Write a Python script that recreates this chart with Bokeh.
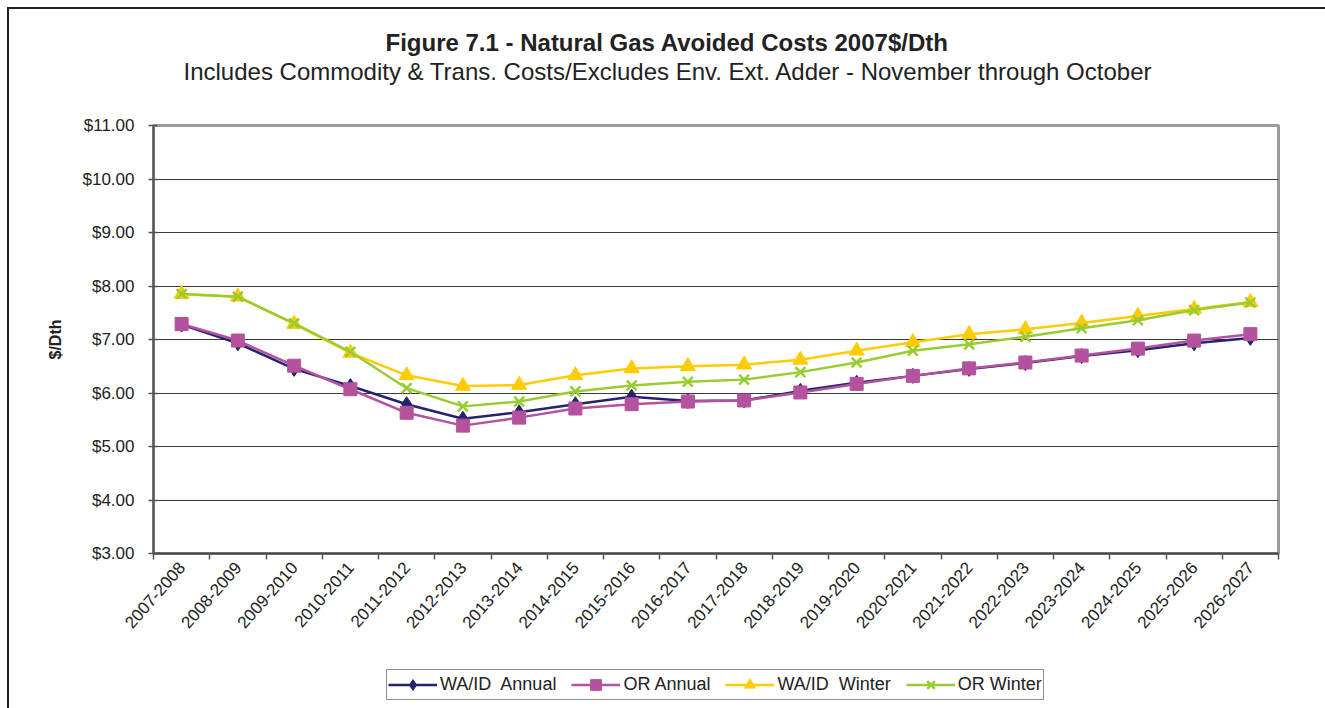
import math
from bokeh.plotting import figure
from bokeh.layouts import column
from bokeh.models import (Title, Legend, LegendItem, FixedTicker, SingleIntervalTicker,
                          NumeralTickFormatter, Range1d)
from bokeh.embed import file_html
from bokeh.resources import INLINE

categories = ["2007-2008", "2008-2009", "2009-2010", "2010-2011", "2011-2012",
              "2012-2013", "2013-2014", "2014-2015", "2015-2016", "2016-2017",
              "2017-2018", "2018-2019", "2019-2020", "2020-2021", "2021-2022",
              "2022-2023", "2023-2024", "2024-2025", "2025-2026", "2026-2027"]

wa_id_annual = [7.28, 6.93, 6.45, 6.13, 5.79, 5.52, 5.64, 5.79, 5.93, 5.85,
                5.86, 6.04, 6.19, 6.32, 6.45, 6.56, 6.69, 6.80, 6.93, 7.03]
or_annual = [7.29, 6.98, 6.51, 6.07, 5.63, 5.39, 5.54, 5.71, 5.79, 5.84,
             5.86, 6.01, 6.17, 6.32, 6.46, 6.57, 6.70, 6.83, 6.98, 7.10]
wa_id_winter = [7.85, 7.80, 7.29, 6.75, 6.33, 6.13, 6.15, 6.33, 6.46, 6.50,
                6.53, 6.62, 6.79, 6.95, 7.10, 7.19, 7.31, 7.44, 7.57, 7.70]
or_winter = [7.85, 7.80, 7.30, 6.77, 6.09, 5.75, 5.84, 6.03, 6.14, 6.21,
             6.25, 6.39, 6.57, 6.79, 6.91, 7.05, 7.21, 7.36, 7.55, 7.69]

series_names = ["WA/ID  Annual", "OR Annual", "WA/ID  Winter", "OR Winter"]

y_ticks_min, y_ticks_max = 3, 11

FONT = "Liberation Sans"
TXT = "#222222"

p = figure(width=1316, height=655, output_backend="svg", toolbar_location=None,
           x_range=Range1d(-0.5, len(categories) - 0.5),
           y_range=Range1d(y_ticks_min, y_ticks_max),
           min_border_left=144, min_border_right=47, min_border_top=116,
           min_border_bottom=111)

p.background_fill_color = "white"
p.border_fill_color = "white"
p.outline_line_color = "#9a9a9a"
p.outline_line_width = 3

# titles: spacer (closest to plot), subtitle, main title
spacer = Title(text=" ", text_font=FONT, text_font_size="24px", standoff=12)
sub = Title(text="Includes Commodity & Trans.  Costs/Excludes Env.  Ext.  Adder - November through October",
            text_font=FONT, text_font_size="24px", text_font_style="normal",
            text_color=TXT, align="left", offset=30, standoff=0)
main = Title(text="Figure 7.1 - Natural Gas Avoided Costs 2007$/Dth",
             text_font=FONT, text_font_size="24px", text_font_style="bold",
             text_color=TXT, align="left", offset=232, standoff=0)
p.add_layout(spacer, "above")
p.add_layout(sub, "above")
p.add_layout(main, "above")

p.xgrid.grid_line_color = None
p.ygrid.grid_line_color = "#3a3a3a"
p.ygrid.grid_line_width = 1.2
p.ygrid.ticker = SingleIntervalTicker(interval=1)

p.yaxis.ticker = SingleIntervalTicker(interval=1)
p.yaxis.formatter = NumeralTickFormatter(format="$0.00")
p.yaxis.major_label_text_font = FONT
p.yaxis.major_label_text_font_size = "17px"
p.yaxis.major_label_text_color = TXT
p.yaxis.axis_line_color = "#555555"
p.yaxis.axis_line_width = 2
p.yaxis.major_tick_line_color = "#555555"
p.yaxis.major_tick_line_width = 1.5
p.yaxis.major_tick_in = 4
p.yaxis.major_tick_out = 5
p.yaxis.minor_tick_line_color = None
p.yaxis.major_label_standoff = 14
p.yaxis.axis_label = "$/Dth"
p.yaxis.axis_label_text_font = FONT
p.yaxis.axis_label_text_font_size = "16px"
p.yaxis.axis_label_text_font_style = "bold"
p.yaxis.axis_label_text_color = TXT
p.yaxis.axis_label_standoff = 16

xs = list(range(len(categories)))
p.xaxis.ticker = FixedTicker(ticks=xs, minor_ticks=[i - 0.5 for i in range(len(categories) + 1)])
p.xaxis.major_label_overrides = {i: c for i, c in enumerate(categories)}
p.xaxis.major_label_orientation = 0.85
p.xaxis.major_label_text_font = FONT
p.xaxis.major_label_text_font_size = "17px"
p.xaxis.major_label_text_color = TXT
p.xaxis.axis_line_color = "#444444"
p.xaxis.axis_line_width = 2
p.xaxis.major_tick_line_color = None
p.xaxis.minor_tick_line_color = "#555555"
p.xaxis.minor_tick_line_width = 1.5
p.xaxis.minor_tick_in = 0
p.xaxis.minor_tick_out = 6
p.xaxis.major_label_standoff = 5

series = [
    (series_names[0], wa_id_annual, "#23236f", "diamond", 15),
    (series_names[1], or_annual, "#b5529e", "square", 13),
    (series_names[2], wa_id_winter, "#ffcc00", "triangle", 15),
    (series_names[3], or_winter, "#99cc33", "x", 14),
]

# strip below the chart that holds the legend
p2 = figure(width=1316, height=44, output_backend="svg", toolbar_location=None,
            x_axis_location=None, y_axis_location=None,
            x_range=Range1d(1000, 1001), y_range=Range1d(1000, 1001),
            min_border=0)
p2.outline_line_color = None
p2.grid.grid_line_color = None
p2.background_fill_color = "white"
p2.border_fill_color = "white"

items = []
for name, vals, color, marker, size in series:
    p.line(xs, vals, line_color=color, line_width=2.5)
    if marker == "x":
        p.scatter(xs, vals, marker=marker, size=size, line_color=color, line_width=2.5)
        m2 = p2.scatter(xs, vals, marker=marker, size=size, line_color=color, line_width=2.5)
    else:
        p.scatter(xs, vals, marker=marker, size=size, fill_color=color, line_color=color)
        m2 = p2.scatter(xs, vals, marker=marker, size=size, fill_color=color, line_color=color)
    l2 = p2.line(xs, vals, line_color=color, line_width=2.5)
    items.append(LegendItem(label=name, renderers=[l2, m2]))

legend = Legend(items=items, orientation="horizontal", location=(233, 8),
                label_text_font=FONT, label_text_font_size="18px", label_text_color=TXT,
                border_line_color="#222222", border_line_width=1,
                glyph_width=49, glyph_height=27, label_height=20, spacing=15, padding=1,
                margin=0, label_standoff=3, background_fill_alpha=1)
p2.add_layout(legend, "center")

layout = column(p, p2, spacing=0,
                styles={"border-left": "2px solid #222222",
                        "border-top": "2px solid #222222",
                        "margin-left": "7px", "margin-top": "7px"})

open("out.html", "w").write(file_html(layout, INLINE))
